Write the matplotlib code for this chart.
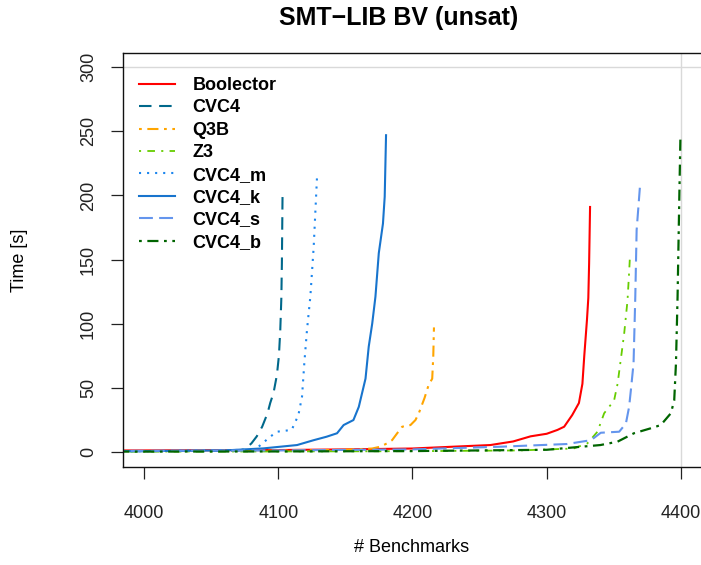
import matplotlib
matplotlib.use("Agg")
import matplotlib.pyplot as plt

plt.rcParams['font.family'] = ['Liberation Sans', 'DejaVu Sans']
plt.rcParams['lines.scale_dashes'] = False

# solved-benchmark count vs. time
boolector_x = [3900, 4000, 4100, 4150, 4200, 4230, 4258, 4275, 4288, 4300, 4308, 4313, 4319, 4324,
               4326.6, 4328, 4330, 4331, 4331.6, 4332.3]
boolector_y = [0.8, 1.0, 1.3, 1.8, 2.5, 3.9, 5.2, 8, 12, 14, 17, 19.5, 28.6, 38,
               53, 75, 103, 120, 147, 191]

cvc4_x = [3900, 4000, 4070, 4075, 4080, 4084, 4088, 4092, 4094, 4096.5, 4099, 4100.5, 4101.5,
          4102.3, 4102.7, 4103.2]
cvc4_y = [0.3, 0.4, 0.8, 2, 6.5, 12, 19.5, 30, 38, 46, 60, 75, 95, 120, 147, 202]

q3b_x = [3900, 4000, 4100, 4150, 4170, 4176, 4181, 4184.8, 4188.6, 4192.3, 4198.5, 4202.2,
         4204.7, 4209, 4212, 4214.7, 4215.5, 4216]
q3b_y = [0.4, 0.5, 0.8, 1.5, 2.5, 3.9, 6.5, 9, 14.4, 19.5, 20.8, 24.7, 30, 42, 52, 57, 75, 97]

z3_x = [3900, 4000, 4100, 4200, 4280, 4320, 4330.3, 4337.8, 4342.8, 4350.2, 4352.8, 4355.2,
        4357.7, 4360.2, 4361.4, 4362]
z3_y = [0.1, 0.1, 0.2, 0.4, 1.0, 2.5, 6.5, 15.6, 30, 40, 53, 72, 92, 118, 140, 152]

cvc4_m_x = [3900, 4000, 4080, 4085.3, 4094, 4099, 4110, 4115, 4117.7, 4119.4, 4121.4, 4123.9,
            4126.4, 4128.9]
cvc4_m_y = [0.3, 0.4, 1.5, 3.9, 11.7, 15.6, 17, 28.6, 43, 69, 95, 121, 160, 215]

cvc4_k_x = [3900, 4000, 4060, 4089, 4114, 4126.4, 4136, 4143.8, 4148.7, 4156, 4160, 4165,
            4167.4, 4170, 4172.4, 4174.9, 4178, 4179.3, 4180.3]
cvc4_k_y = [0.4, 0.5, 1.0, 2.6, 5.2, 9, 11.7, 14.4, 20.8, 24.7, 35, 57, 82, 100, 121, 155,
            178, 199, 247]

cvc4_s_x = [3900, 4000, 4100, 4200, 4265.7, 4315, 4333, 4340.3, 4354, 4359, 4361.4, 4363,
            4364.7, 4366, 4367, 4369.4]
cvc4_s_y = [0.5, 0.7, 1.0, 1.8, 3.9, 6, 9, 14.8, 15.6, 22, 35, 51, 69, 121, 173, 206]

cvc4_b_x = [3900, 4000, 4100, 4200, 4300, 4340, 4352.7, 4365, 4377.6, 4385, 4392.5, 4395,
            4396.3, 4397.5, 4398.8, 4399.6]
cvc4_b_y = [0.1, 0.1, 0.2, 0.5, 1.5, 5.2, 7.8, 14.4, 18.3, 20.8, 30, 40, 69, 121, 199, 244]

solvers = ["Boolector", "CVC4", "Q3B", "Z3", "CVC4_m", "CVC4_k", "CVC4_s", "CVC4_b"]
xs = [boolector_x, cvc4_x, q3b_x, z3_x, cvc4_m_x, cvc4_k_x, cvc4_s_x, cvc4_b_x]
ys = [boolector_y, cvc4_y, q3b_y, z3_y, cvc4_m_y, cvc4_k_y, cvc4_s_y, cvc4_b_y]
colors = ["#FF0000", "#00688B", "#FFA500", "#66CD00", "#1C86EE", "#1874CD", "#6495ED", "#006400"]
dotdash = (0, (2, 4, 8, 4))
styles = ["-", (0, (9, 5.5)), dotdash, (0, (1.5, 4.5, 5.5, 4.5)), (0, (1.5, 4.3)), "-",
          (0, (10, 4.5)), dotdash]
widths = [1.5, 1.5, 1.5, 1.3, 1.5, 1.5, 1.5, 1.6]

fig = plt.figure(figsize=(7.01, 5.65), dpi=100)
ax = fig.add_axes([122.7 / 701, 98.3 / 565, (702 - 122.7) / 701, 414 / 565])

ax.axhline(300, color="#D9D9D9", lw=1, zorder=0)
ax.axvline(4400, color="#D9D9D9", lw=1, zorder=0)

for name, x, y, c, ls, w in zip(solvers, xs, ys, colors, styles, widths):
    ax.plot(x, y, color=c, linestyle=ls, lw=w, label=name)

ax.set_xlim(3984.1, 4415.7)
ax.set_ylim(-11.7, 311.4)
ax.set_xticks([4000, 4100, 4200, 4300, 4400])
ax.set_yticks([0, 50, 100, 150, 200, 250, 300])
ax.tick_params(axis="both", direction="out", length=8.6, width=0.9, labelsize=13, colors="#222222")
ax.tick_params(axis="x", pad=19)
ax.tick_params(axis="y", pad=10)
for lab in ax.get_yticklabels():
    lab.set_rotation(90)
    lab.set_va("center")
ax.spines["right"].set_visible(False)
for s in ["left", "top", "bottom"]:
    ax.spines[s].set_linewidth(1.0)
    ax.spines[s].set_color("#111111")

leg = ax.legend(loc="upper left", bbox_to_anchor=(139 / 701, 1 - 77 / 565),
                bbox_transform=fig.transFigure, frameon=False,
                prop={"weight": "bold", "size": 13}, handlelength=2.0, handletextpad=0.95,
                labelspacing=0.30, borderpad=0, borderaxespad=0)

fig.text(399 / 701, 1 - 18 / 565, "SMT\u2212LIB BV (unsat)", ha="center", va="center",
         fontsize=18, fontweight="bold")
fig.text(412 / 701, 1 - 548 / 565, "# Benchmarks", ha="center", va="center", fontsize=13)
fig.text(20 / 701, 1 - 260 / 565, "Time [s]", ha="center", va="center", fontsize=13,
         rotation=90)

fig.savefig("out.png", dpi=100)
